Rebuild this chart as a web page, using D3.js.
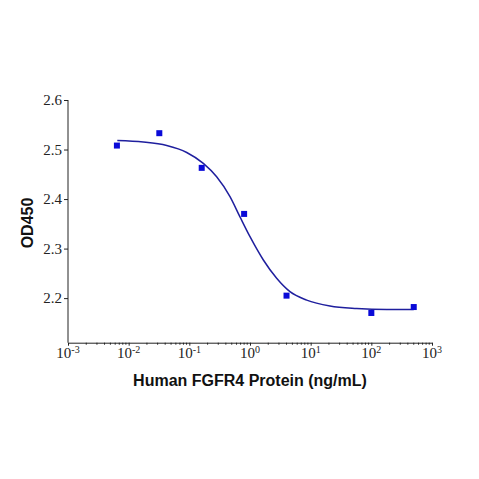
<!DOCTYPE html>
<html>
<head>
<meta charset="utf-8">
<script src="https://cdn.jsdelivr.net/npm/d3@7"></script>
<style>
  html, body { margin: 0; padding: 0; background: #fff; }
  svg { display: block; }
  .serif { font-family: "Liberation Serif", "DejaVu Serif", serif; }
</style>
</head>
<body>
<svg id="chart" width="479" height="479"></svg>
<script>
"use strict";

// measured points (concentration ng/mL, OD450)
const concentrations = [0.0064, 0.032, 0.16, 0.8, 4, 100, 500];
const od450 = [2.508, 2.533, 2.463, 2.370, 2.205, 2.170, 2.182];

// fitted curve
const fitX = [0.0065, 0.0174, 0.0424, 0.0906, 0.170, 0.282, 0.468, 0.684, 1.0, 1.66, 2.75, 4.56, 8.6, 20.8, 57.4, 179, 500];
const fitY = [2.518, 2.515, 2.508, 2.494, 2.472, 2.445, 2.405, 2.364, 2.324, 2.277, 2.240, 2.213, 2.196, 2.184, 2.179, 2.177, 2.177];

const xDecades = [-3, -2, -1, 0, 1, 2, 3];
const yTicks = [2.2, 2.3, 2.4, 2.5, 2.6];

const svg = d3.select("#chart");

var x = d3.scaleLog().domain([1e-3, 1e3]).range([68, 432]);
var y = d3.scaleLinear().domain([2.11, 2.6]).range([342.7, 100]);

// Y axis
var yAxis = svg.append("g")
    .attr("transform", "translate(" + x.range()[0] + ",0)")
    .call(d3.axisLeft(y).tickValues(yTicks).tickSize(4).tickSizeOuter(0).tickPadding(2)
        .tickFormat(d3.format(".1f")));
yAxis.attr("font-family", null).attr("font-size", null);
yAxis.select(".domain").attr("d", "M0," + y.range()[0] + "V" + y(2.6)).attr("stroke", "#222");
yAxis.selectAll("line").attr("stroke", "#222");
yAxis.selectAll("text")
    .attr("class", "serif")
    .style("font-size", "15px")
    .attr("fill", "#222");

// X axis - major ticks at decades
var xAxis = svg.append("g")
    .attr("transform", "translate(0," + y.range()[0] + ")")
    .call(d3.axisBottom(x).tickValues(xDecades.map(function (e) { return Math.pow(10, e); }))
        .tickSize(3).tickSizeOuter(0).tickFormat(""));
xAxis.attr("font-family", null).attr("font-size", null);
xAxis.select(".domain").attr("stroke", "#222");
xAxis.selectAll("line").attr("stroke", "#222");

// minor ticks
var minors = [];
xDecades.slice(0, -1).forEach(function (e) {
    for (var m = 2; m <= 9; m++) minors.push(m * Math.pow(10, e));
});
xAxis.selectAll(".minor")
    .data(minors)
    .enter()
    .append("line")
    .attr("x1", function (d) { return x(d); })
    .attr("x2", function (d) { return x(d); })
    .attr("y1", 0)
    .attr("y2", 2)
    .attr("stroke", "#222");

// decade labels with superscript exponents
var lab = xAxis.selectAll(".dlab")
    .data(xDecades)
    .enter()
    .append("text")
    .attr("class", "serif")
    .attr("x", function (d) { return x(Math.pow(10, d)); })
    .attr("y", 15)
    .attr("text-anchor", "middle")
    .style("font-size", "15px")
    .attr("fill", "#222");
lab.append("tspan").text("10");
lab.append("tspan")
    .style("font-size", "10px")
    .attr("dy", -5)
    .text(function (d) { return d < 0 ? "-" + (-d) : String(d); });

// axis titles
svg.append("text")
    .attr("x", 250)
    .attr("y", 386)
    .attr("text-anchor", "middle")
    .attr("font-family", "'Liberation Sans', Arial, sans-serif")
    .attr("font-weight", "bold")
    .attr("font-size", 16)
    .attr("fill", "#111")
    .text("Human FGFR4 Protein (ng/mL)");

svg.append("text")
    .attr("transform", "translate(33,223) rotate(-90)")
    .attr("text-anchor", "middle")
    .attr("font-family", "'Liberation Sans', Arial, sans-serif")
    .attr("font-weight", "bold")
    .attr("font-size", 16)
    .attr("fill", "#111")
    .text("OD450");

// fitted curve
var fit = fitX.map(function (d, i) { return [d, fitY[i]]; });
svg.append("path")
    .datum(fit)
    .attr("fill", "none")
    .attr("stroke", "#1f1f9e")
    .attr("stroke-width", 1.5)
    .attr("d", d3.line()
        .x(function (d) { return x(d[0]); })
        .y(function (d) { return y(d[1]); })
        .curve(d3.curveMonotoneX));

// data points
var pts = concentrations.map(function (d, i) { return [d, od450[i]]; });
svg.selectAll(".pt")
    .data(pts)
    .enter()
    .append("rect")
    .attr("x", function (d) { return x(d[0]) - 3; })
    .attr("y", function (d) { return y(d[1]) - 3; })
    .attr("width", 6)
    .attr("height", 6)
    .attr("fill", "#0a0ad8");
</script>
</body>
</html>
